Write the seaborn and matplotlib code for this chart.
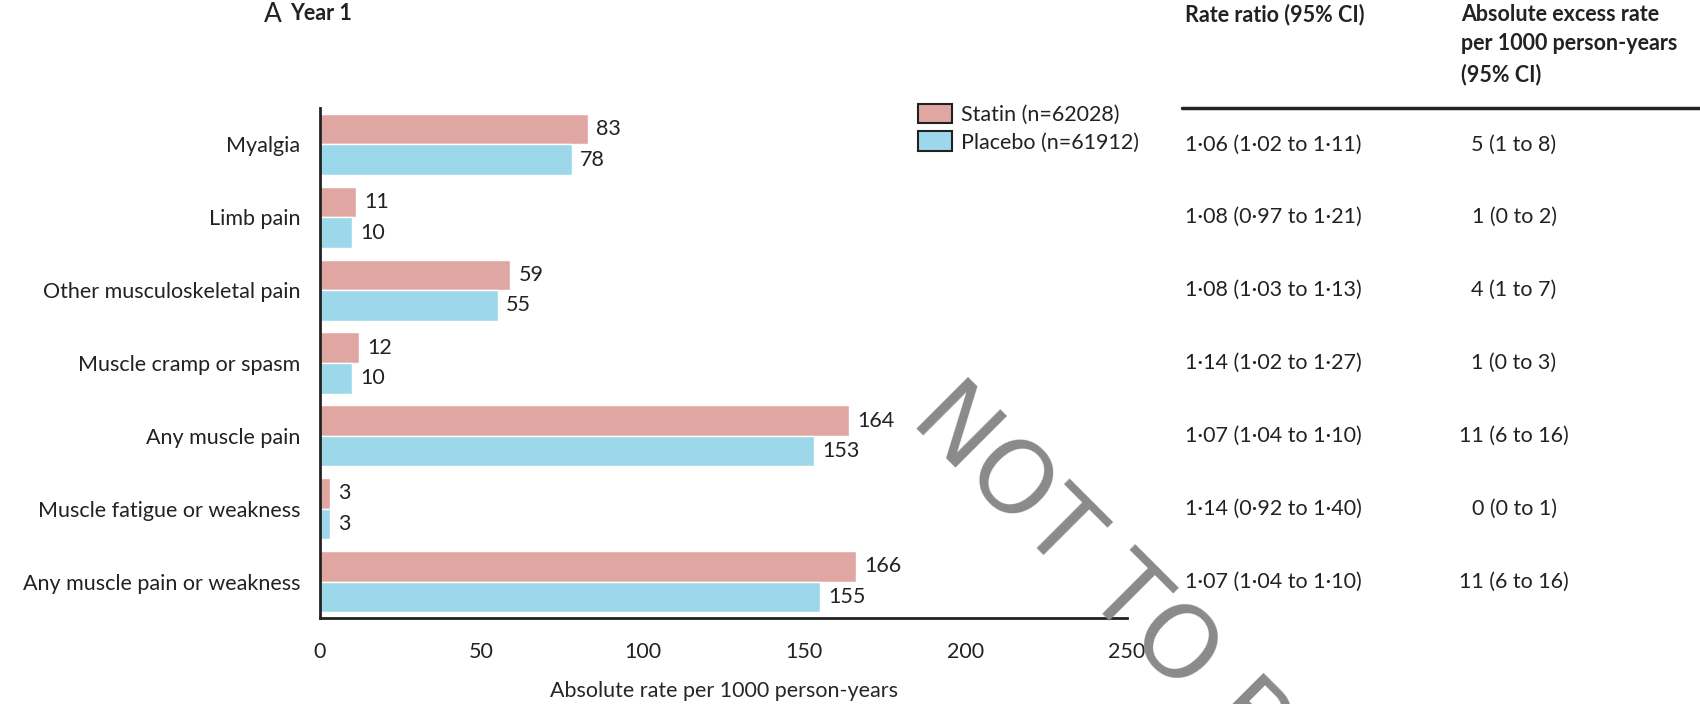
import matplotlib
matplotlib.use("Agg")

import numpy as np
import pandas as pd
import matplotlib.pyplot as plt
import seaborn as sns
from matplotlib.patches import Patch
from matplotlib.lines import Line2D
from matplotlib.transforms import blended_transform_factory

# ---- data ----
categories = ['Myalgia', 'Limb pain', 'Other musculoskeletal pain', 'Muscle cramp or spasm',
              'Any muscle pain', 'Muscle fatigue or weakness', 'Any muscle pain or weakness']
statin = [83, 11, 59, 12, 164, 3, 166]
placebo = [78, 10, 55, 10, 153, 3, 155]
groups = ['Statin (n=62028)', 'Placebo (n=61912)']
rate_ratio = ['1·06 (1·02 to 1·11)', '1·08 (0·97 to 1·21)', '1·08 (1·03 to 1·13)', '1·14 (1·02 to 1·27)',
              '1·07 (1·04 to 1·10)', '1·14 (0·92 to 1·40)', '1·07 (1·04 to 1·10)']
excess = ['5 (1 to 8)', '1 (0 to 2)', '4 (1 to 7)', '1 (0 to 3)', '11 (6 to 16)', '0 (0 to 1)', '11 (6 to 16)']
x_ticks = [0, 50, 100, 150, 200, 250]

statin_color = '#E0A6A2'
placebo_color = '#9DD8EA'
ink = '#222222'
fs = 15.5

df = pd.DataFrame({
    'outcome': categories * 2,
    'group': [groups[0]] * len(categories) + [groups[1]] * len(categories),
    'rate': statin + placebo,
})

sns.set_style('white')
plt.rcParams['font.family'] = ['Lato', 'DejaVu Sans']
plt.rcParams['text.color'] = ink

fig = plt.figure(figsize=(17, 7.04), dpi=100)
ax = fig.add_axes([320 / 1700, 1 - 618 / 704, 807 / 1700, 510 / 704])

sns.barplot(data=df, y='outcome', x='rate', hue='group', orient='h',
            palette=[statin_color, placebo_color], saturation=1, width=0.84,
            legend=False, ax=ax)

ax.set_xlim(0, 250)
ax.set_ylim(len(categories) - 0.5, -0.5)
sns.despine(ax=ax)
for s in ['left', 'bottom']:
    ax.spines[s].set_linewidth(2)
    ax.spines[s].set_color(ink)

ax.set_yticks(range(len(categories)))
ax.set_yticklabels(categories)
ax.set_yticks(np.arange(-0.5, len(categories), 1), minor=True)
ax.tick_params(axis='y', which='major', length=0, pad=14, labelsize=fs, labelcolor=ink)
ax.tick_params(axis='y', which='minor', length=7, width=2, color=ink)
ax.set_xticks(x_ticks)
ax.tick_params(axis='x', length=8, width=2, color=ink, pad=9, labelsize=fs, labelcolor=ink)
ax.set_xlabel('Absolute rate per 1000 person-years', fontsize=fs, labelpad=14)
ax.set_ylabel('')

for cont in ax.containers:
    ax.bar_label(cont, fmt='%d', padding=6, fontsize=fs, color=ink)

# legend
handles = [Patch(facecolor=statin_color, edgecolor=ink, linewidth=1.5),
           Patch(facecolor=placebo_color, edgecolor=ink, linewidth=1.5)]
fig.legend(handles, groups, loc='upper left', bbox_to_anchor=(918 / 1700, 1 - 104 / 704),
           frameon=False, fontsize=fs, handlelength=1.6, handleheight=1.0,
           handletextpad=0.4, labelspacing=0.3, borderpad=0, borderaxespad=0)

# title
fig.text(264 / 1700, 1 - 14 / 704, 'A', fontsize=19, va='center', ha='left')
fig.text(290 / 1700, 1 - 14 / 704, 'Year 1', fontsize=fs, fontweight='bold', va='center', ha='left')

# table
fig.text(1185 / 1700, 1 - 4 / 704, 'Rate ratio (95% CI)', fontsize=fs, fontweight='bold', va='top')
fig.text(1461 / 1700, 1 - 4 / 704, 'Absolute excess rate\nper 1000 person-years\n(95% CI)',
         fontsize=fs, fontweight='bold', va='top', linespacing=1.5)
fig.add_artist(Line2D([1182 / 1700, 1.0], [1 - 108 / 704] * 2, color=ink, linewidth=2.5))
tr = blended_transform_factory(fig.transFigure, ax.transData)
for i in range(len(categories)):
    ax.text(1185 / 1700, i, rate_ratio[i], transform=tr, fontsize=fs, va='center', ha='left')
    ax.text(1514 / 1700, i, excess[i], transform=tr, fontsize=fs, va='center', ha='center')

# watermark
fig.text(928 / 1700, 1 - 402 / 704, 'NOT TO BE', fontsize=72, color='#8a8a8a',
         family='DejaVu Sans', rotation=-45, rotation_mode='anchor', ha='left', va='center')

fig.savefig('out.png', dpi=100)
plt.close(fig)
